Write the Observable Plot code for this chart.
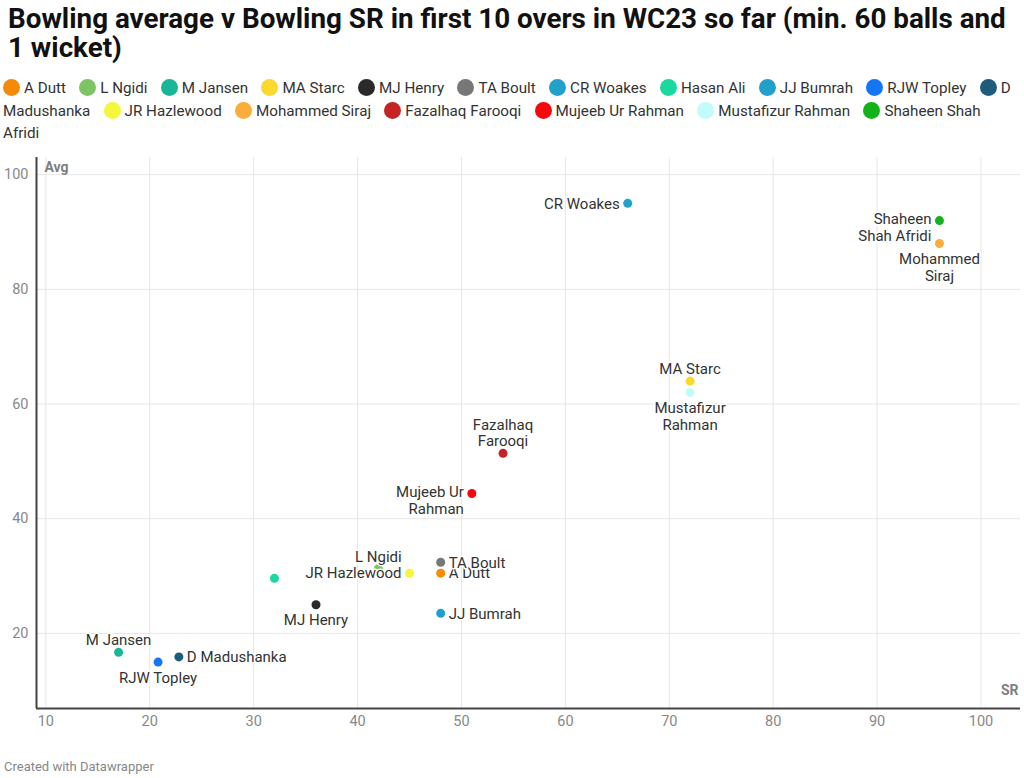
<!DOCTYPE html>
<html>
<head>
<meta charset="utf-8">
<script src="https://cdn.jsdelivr.net/npm/d3@7"></script>
<script src="https://cdn.jsdelivr.net/npm/@observablehq/plot@0.6"></script>
<style>
  body { margin: 0; background: #fff; font-family: Roboto, "Noto Sans", sans-serif; color: #333; }
  #wrap { position: relative; width: 1024px; height: 778px; overflow: hidden; }
  #title { position: absolute; left: 8px; top: 4px; width: 1016px; font-size: 27.8px; font-weight: 700; line-height: 29px; color: #111; }
  #legend { position: absolute; left: 3px; top: 77px; width: 1018px; font-size: 15.2px; line-height: 22.5px; color: #333; }
  .item { margin-right: 9.5px; }
  .dot { display: inline-block; width: 17px; height: 17px; border-radius: 50%; vertical-align: -3px; margin-right: 4px; }
  #chart { position: absolute; left: 0; top: 145px; }
  #caption { position: absolute; left: 4px; top: 759px; font-size: 13px; color: #888; }
</style>
</head>
<body>
<div id="wrap">
  <div id="title">Bowling average v Bowling SR in first 10 overs in WC23 so far (min. 60 balls and<br>1 wicket)</div>
  <div id="legend"></div>
  <div id="chart"></div>
  <div id="caption">Created with Datawrapper</div>
</div>
<script>
const players = ["A Dutt","L Ngidi","M Jansen","MA Starc","MJ Henry","TA Boult","CR Woakes","Hasan Ali","JJ Bumrah","RJW Topley","D Madushanka","JR Hazlewood","Mohammed Siraj","Fazalhaq Farooqi","Mujeeb Ur Rahman","Mustafizur Rahman","Shaheen Shah Afridi"];
const strikeRate = [48, 42, 17, 72, 36, 48, 66, 32, 48, 20.8, 22.8, 45, 96, 54, 51, 72, 96];
const average = [30.5, 31.3, 16.7, 64, 25, 32.4, 95, 29.6, 23.5, 15, 15.9, 30.5, 88, 51.4, 44.4, 62, 92];
const colors = ["#f58a07","#7dc462","#18b597","#fcd82e","#2a2a2a","#777777","#22a0cc","#1ad8a0","#22a0cc","#1476f5","#1d5d7a","#f4f73a","#faad3c","#c62326","#f5070e","#c2fbfb","#14b21a"];
const labelText = ["A Dutt","L Ngidi","M Jansen","MA Starc","MJ Henry","TA Boult","CR Woakes","","JJ Bumrah","RJW Topley","D Madushanka","JR Hazlewood","Mohammed\nSiraj","Fazalhaq\nFarooqi","Mujeeb Ur\nRahman","Mustafizur\nRahman","Shaheen\nShah Afridi"];
const xTicks = [10,20,30,40,50,60,70,80,90,100];
const yTicks = [20,40,60,80,100];
const xDomain = [9.1, 103.8];
const yDomain = [6.9, 103];

const data = players.map((p, i) => ({name: p, sr: strikeRate[i], avg: average[i], color: colors[i], label: labelText[i]}));

// legend
const legend = document.getElementById("legend");
legend.innerHTML = data.map(d => `<span class="item"><span class="dot" style="background:${d.color}"></span>${d.name}</span>`).join(" ");

const placement = {
  "CR Woakes": "left", "JR Hazlewood": "left",
  "Shaheen Shah Afridi": "leftTop", "Mujeeb Ur Rahman": "leftTop",
  "TA Boult": "right", "A Dutt": "right", "JJ Bumrah": "right", "D Madushanka": "right",
  "MA Starc": "top", "Fazalhaq Farooqi": "top", "L Ngidi": "top", "M Jansen": "top",
  "Mohammed Siraj": "bottom", "Mustafizur Rahman": "bottom", "MJ Henry": "bottom", "RJW Topley": "bottom"
};
const styles = {
  left: {textAnchor: "end", dx: -8, lineAnchor: "middle"},
  leftTop: {textAnchor: "end", dx: -8, lineAnchor: "top", dy: -8},
  right: {textAnchor: "start", dx: 8, lineAnchor: "middle"},
  top: {textAnchor: "middle", lineAnchor: "bottom", dy: -7},
  bottom: {textAnchor: "middle", lineAnchor: "top", dy: 9}
};
const labelMarks = Object.entries(styles).map(([key, st]) =>
  Plot.text(data.filter(d => placement[d.name] === key), {
    x: "sr", y: "avg", text: "label", fill: "#333", stroke: "white", strokeWidth: 3,
    fontSize: 15, lineHeight: 1.1, ...st
  })
);

const chart = Plot.plot({
  width: 1024, height: 595,
  marginLeft: 36, marginRight: 4, marginTop: 12, marginBottom: 32,
  style: {fontFamily: "Roboto, sans-serif", background: "white"},
  x: {domain: xDomain, ticks: xTicks},
  y: {domain: yDomain, ticks: yTicks},
  marks: [
    Plot.gridX(xTicks, {stroke: "#e6e6e6", strokeOpacity: 1}),
    Plot.gridY(yTicks, {stroke: "#e6e6e6", strokeOpacity: 1}),
    Plot.axisX(xTicks, {tickSize: 0, tickPadding: 7, fontSize: 14.5, fill: "#888", label: null}),
    Plot.axisY(yTicks, {tickSize: 0, tickPadding: 8, fontSize: 14.5, fill: "#888", label: null}),
    Plot.ruleX([xDomain[0]], {stroke: "#444", strokeWidth: 2}),
    Plot.ruleY([yDomain[0]], {stroke: "#444", strokeWidth: 2}),
    Plot.dot(data, {x: "sr", y: "avg", fill: "color", r: 4.5}),
    ...labelMarks,
    Plot.text(["Avg"], {frameAnchor: "top-left", dx: 8, dy: 5, fontWeight: "bold", fill: "#808080", fontSize: 14, textAnchor: "start"}),
    Plot.text(["SR"], {frameAnchor: "bottom-right", dx: -2, dy: -14, fontWeight: "bold", fill: "#808080", fontSize: 14, textAnchor: "end"})
  ]
});
document.getElementById("chart").appendChild(chart);
</script>
</body>
</html>
